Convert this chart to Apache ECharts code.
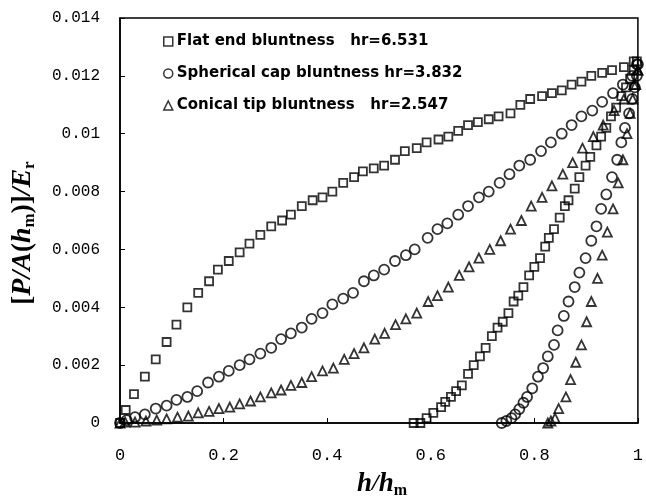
<!DOCTYPE html>
<html>
<head>
<meta charset="utf-8">
<script src="https://cdn.jsdelivr.net/npm/echarts@6/dist/echarts.min.js"></script>
<style>
  html, body { margin: 0; padding: 0; background: #fff; }
  #chart { width: 646px; height: 497px; }
</style>
</head>
<body>
<div id="chart"></div>
<script>
// 图例名称
let seriesNames = ['Flat end bluntness   hr=6.531', 'Spherical cap bluntness hr=3.832', 'Conical tip bluntness   hr=2.547'];

// 平端 加载 / 卸载
let flatLoad = [[0,0],[0.011,0.00045],[0.027,0.0010],[0.048,0.0016],[0.069,0.0022],[0.090,0.0028],[0.109,0.0034],[0.130,0.0040],[0.151,0.0045],[0.172,0.0049],[0.189,0.0053],[0.210,0.0056],[0.231,0.0059],[0.250,0.0062],[0.271,0.0065],[0.292,0.0068],[0.313,0.0070],[0.330,0.0072],[0.351,0.0075],[0.372,0.0077],[0.391,0.0078],[0.410,0.0080],[0.431,0.0083],[0.452,0.0085],[0.469,0.0087],[0.490,0.0088],[0.510,0.0089],[0.531,0.0091],[0.550,0.0094],[0.573,0.0095],[0.592,0.0097],[0.615,0.0098],[0.634,0.0099],[0.653,0.0101],[0.672,0.0103],[0.691,0.0104],[0.712,0.0105],[0.731,0.0106],[0.754,0.0107],[0.773,0.0110],[0.792,0.0112],[0.815,0.0113],[0.834,0.0114],[0.853,0.0115],[0.872,0.0117],[0.891,0.0118],[0.910,0.0120],[0.931,0.0121],[0.950,0.0122],[0.973,0.0123],[0.992,0.0125]];
let flatUnload = [[0.567,0],[0.580,0],[0.592,0.00017],[0.605,0.00035],[0.620,0.00055],[0.628,0.00073],[0.639,0.0009],[0.649,0.0011],[0.660,0.0013],[0.672,0.0017],[0.683,0.0020],[0.695,0.0023],[0.706,0.0026],[0.718,0.0030],[0.729,0.0033],[0.739,0.0035],[0.750,0.0038],[0.760,0.0042],[0.769,0.0044],[0.779,0.0047],[0.790,0.0051],[0.800,0.0054],[0.811,0.0057],[0.821,0.0061],[0.828,0.0064],[0.838,0.0067],[0.849,0.0071],[0.859,0.0075],[0.866,0.0077],[0.878,0.0081],[0.887,0.0085],[0.899,0.0089],[0.908,0.0092],[0.920,0.0096],[0.929,0.0099],[0.939,0.0102],[0.948,0.0106],[0.958,0.0109],[0.968,0.0113],[0.977,0.0116],[0.985,0.0119],[0.992,0.0122],[0.998,0.0125]];

// 球冠 加载 / 卸载
let sphLoad = [[0,0],[0.013,0.0001],[0.029,0.0002],[0.048,0.0003],[0.069,0.0005],[0.090,0.0006],[0.109,0.0008],[0.130,0.0009],[0.149,0.0011],[0.170,0.0014],[0.191,0.0016],[0.210,0.0018],[0.231,0.0020],[0.250,0.0022],[0.271,0.0024],[0.292,0.0026],[0.311,0.0029],[0.330,0.0031],[0.351,0.0033],[0.370,0.0036],[0.391,0.0038],[0.410,0.0041],[0.431,0.0043],[0.450,0.0045],[0.471,0.0049],[0.490,0.0051],[0.510,0.0053],[0.531,0.0056],[0.552,0.0058],[0.569,0.0060],[0.594,0.0064],[0.613,0.0067],[0.632,0.0069],[0.653,0.0072],[0.672,0.0075],[0.693,0.0078],[0.712,0.0080],[0.733,0.0083],[0.752,0.0086],[0.771,0.0089],[0.792,0.0091],[0.813,0.0094],[0.832,0.0097],[0.853,0.0100],[0.872,0.0103],[0.891,0.0106],[0.912,0.0108],[0.931,0.0111],[0.952,0.0114],[0.971,0.0117],[0.989,0.0120],[0.998,0.0124]];
let sphUnload = [[0.737,0],[0.746,0.00007],[0.756,0.00017],[0.763,0.0003],[0.771,0.00048],[0.779,0.0007],[0.786,0.0009],[0.796,0.0012],[0.807,0.0016],[0.817,0.0019],[0.826,0.0023],[0.838,0.0027],[0.845,0.0032],[0.857,0.0037],[0.866,0.0042],[0.878,0.0047],[0.887,0.0052],[0.899,0.0057],[0.910,0.0063],[0.920,0.0068],[0.929,0.0074],[0.939,0.0079],[0.950,0.0085],[0.960,0.0091],[0.968,0.0097],[0.975,0.0102],[0.983,0.0107],[0.989,0.0112],[0.994,0.0116],[0.998,0.0120],[1.0,0.0124]];

// 圆锥 加载 / 卸载
let conLoad = [[0,0],[0.010,0.00003],[0.029,0.00003],[0.050,0.00007],[0.071,0.0001],[0.090,0.00014],[0.111,0.0002],[0.132,0.00024],[0.151,0.00035],[0.172,0.0004],[0.191,0.0005],[0.212,0.00055],[0.231,0.00066],[0.252,0.00076],[0.271,0.0009],[0.292,0.00104],[0.311,0.00114],[0.330,0.0013],[0.351,0.0014],[0.370,0.0016],[0.391,0.0018],[0.412,0.0019],[0.433,0.0022],[0.452,0.0024],[0.471,0.0026],[0.492,0.0029],[0.511,0.0031],[0.532,0.0034],[0.552,0.0036],[0.573,0.0038],[0.595,0.0042],[0.613,0.0044],[0.634,0.0047],[0.655,0.0051],[0.674,0.0054],[0.693,0.0057],[0.714,0.0060],[0.735,0.0063],[0.754,0.0067],[0.775,0.0070],[0.794,0.0075],[0.815,0.0078],[0.834,0.0082],[0.855,0.0086],[0.874,0.0090],[0.893,0.0095],[0.914,0.0099],[0.933,0.0103],[0.954,0.0108],[0.973,0.0112],[0.992,0.0117],[1.0,0.0122]];
let conUnload = [[0.826,0],[0.832,0.00007],[0.840,0.00017],[0.847,0.0005],[0.861,0.0009],[0.870,0.0015],[0.880,0.0021],[0.891,0.0027],[0.901,0.0035],[0.910,0.0042],[0.922,0.0050],[0.931,0.0058],[0.941,0.0066],[0.952,0.0074],[0.962,0.0083],[0.971,0.0091],[0.979,0.0100],[0.985,0.0107],[0.990,0.0112],[0.996,0.0117],[1.0,0.0122]];

let xTicks = [0, 0.2, 0.4, 0.6, 0.8, 1];
let yTicks = [0, 0.002, 0.004, 0.006, 0.008, 0.01, 0.012, 0.014];

let symbols = ['rect', 'circle', 'triangle'];
let symbolSizes = [8, 10, 9];
let markerStyle = {color: 'rgba(0,0,0,0)', borderColor: '#000', borderWidth: 1.8};

function makeSeries(idx, data) {
    return {
        type: 'scatter',
        name: seriesNames[idx],
        data: data,
        symbol: symbols[idx],
        symbolSize: symbolSizes[idx],
        itemStyle: markerStyle,
        emphasis: {disabled: true},
        clip: false
    };
}

let myChart = echarts.init(document.getElementById('chart'));
let option = {
    animation: false,
    backgroundColor: '#fff',
    grid: {
        left: 120, right: 2, top: 18, bottom: 74,
        show: true, borderColor: '#000', borderWidth: 1.5, backgroundColor: 'transparent'
    },
    legend: {
        orient: 'vertical',
        left: 158, top: 29,
        itemWidth: 9, itemHeight: 9,
        itemGap: 17,
        textStyle: {fontFamily: 'DejaVu Sans', fontWeight: 'bold', fontSize: 15, color: '#000', padding: [0, 0, 0, -1]},
        data: seriesNames.map(function (n, i) {
            return {name: n, icon: symbols[i], itemStyle: {color: '#fff', borderColor: '#000', borderWidth: 1.5}};
        })
    },
    xAxis: {
        type: 'value',
        min: 0, max: 1, interval: 0.2,
        axisLine: {onZero: false, lineStyle: {color: '#000', width: 1.5}},
        axisTick: {inside: true, length: 5, lineStyle: {color: '#000'}},
        splitLine: {show: false},
        axisLabel: {
            margin: 24, color: '#000', fontFamily: 'Liberation Mono', fontSize: 17,
            formatter: function (v) { return String(+v.toFixed(1)); }
        }
    },
    yAxis: {
        type: 'value',
        min: 0, max: 0.014, interval: 0.002,
        axisLine: {show: true, lineStyle: {color: '#000', width: 1.5}},
        axisTick: {show: true, inside: true, length: 5, lineStyle: {color: '#000'}},
        splitLine: {show: false},
        axisLabel: {
            margin: 20, color: '#000', fontFamily: 'Liberation Mono', fontSize: 16,
            formatter: function (v) { return String(+v.toFixed(3)); }
        }
    },
    graphic: [
        {
            type: 'text', x: 382, y: 484,
            style: {
                text: '{i|h}{b|/}{i|h}{s|m}',
                align: 'center', verticalAlign: 'middle',
                rich: {
                    i: {fontFamily: 'Liberation Serif', fontStyle: 'italic', fontWeight: 'bold', fontSize: 27, lineHeight: 30, verticalAlign: 'middle'},
                    b: {fontFamily: 'Liberation Serif', fontStyle: 'italic', fontWeight: 'bold', fontSize: 24, lineHeight: 30, verticalAlign: 'middle'},
                    s: {fontFamily: 'Liberation Serif', fontWeight: 'bold', fontSize: 16, lineHeight: 30, verticalAlign: 'bottom'}
                }
            }
        },
        {
            type: 'text', x: 23, y: 233, rotation: Math.PI / 2,
            style: {
                text: '{b|[}{i|P/A}{b|(}{i|h}{s|m}{b|)]}{i|/E}{s|r}',
                align: 'center', verticalAlign: 'middle',
                rich: {
                    i: {fontFamily: 'Liberation Serif', fontStyle: 'italic', fontWeight: 'bold', fontSize: 28, lineHeight: 30, verticalAlign: 'middle'},
                    b: {fontFamily: 'Liberation Serif', fontWeight: 'bold', fontSize: 27, lineHeight: 30, verticalAlign: 'middle'},
                    s: {fontFamily: 'Liberation Serif', fontWeight: 'bold', fontSize: 17, lineHeight: 30, verticalAlign: 'bottom'}
                }
            }
        }
    ],
    series: [
        makeSeries(0, flatLoad),
        makeSeries(0, flatUnload),
        makeSeries(1, sphLoad),
        makeSeries(1, sphUnload),
        makeSeries(2, conLoad),
        makeSeries(2, conUnload)
    ]
};
myChart.setOption(option);
</script>
</body>
</html>
